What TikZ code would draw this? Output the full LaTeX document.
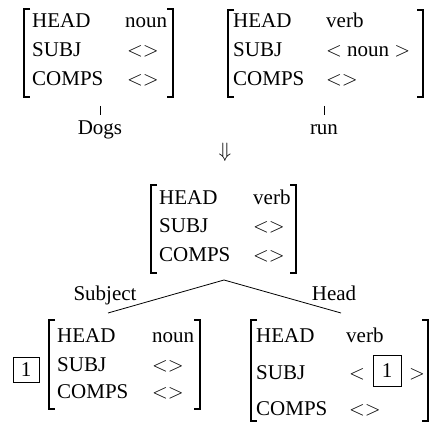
\documentclass[tikz,border=0pt]{standalone}
\usepackage{fontspec}
\setmainfont{Liberation Serif}
\newcommand\avmbrackets[4]{%
  \draw[brk] (#1+6,#3) -- (#1,#3) -- (#1,#4) -- (#1+6,#4);
  \draw[brk] (#2-6,#3) -- (#2,#3) -- (#2,#4) -- (#2-6,#4);}
\begin{document}
\begin{tikzpicture}[x=1pt,y=-1pt,
  t/.style={anchor=base west, inner sep=0pt, font=\fontsize{21}{25}\selectfont},
  tc/.style={anchor=base, inner sep=0pt, font=\fontsize{21}{25}\selectfont},
  brk/.style={line width=1.4pt},
  thinline/.style={line width=0.8pt},
  tagbox/.style={draw, line width=0.8pt, inner sep=0pt, font=\fontsize{21}{25}\selectfont}]
\useasboundingbox (0,0) rectangle (432,422);

% top-left AVM (Dogs)
\avmbrackets{24}{173}{9}{97}
\node[t] (a1) at (32,28) {HEAD};  \node[t] (a1v) at (125,28) {noun};
\node[t] (a2) at (32,57) {SUBJ};  \node[t] (a2v) at (127,57) {$<>$};
\node[t] (a3) at (32,86) {COMPS}; \node[t] (a3v) at (127,86) {$<>$};
\coordinate (dtick) at (100,106);
\node[tc] (dogs) at (100,135) {Dogs};
\draw[thinline] (dtick) -- ++(0,9);

% top-right AVM (run)
\avmbrackets{228}{423}{10}{97}
\node[t] (b1) at (233,28) {HEAD};  \node[t] (b1v) at (326,28) {verb};
\node[t] (b2) at (233,57) {SUBJ};  \node[t] (b2v) at (326,57) {$<$ noun $>$};
\node[t] (b3) at (233,86) {COMPS}; \node[t] (b3v) at (326,86) {$<>$};
\coordinate (rtick) at (324,106);
\node[tc] (run) at (324,135) {run};
\draw[thinline] (rtick) -- ++(0,9);

% arrow
\node[inner sep=0pt, font=\fontsize{21}{25}\selectfont] (darrow) at (225,152) {$\Downarrow$};

% middle AVM
\avmbrackets{151}{296}{185}{273}
\node[t] (m1) at (159,205) {HEAD};  \node[t] (m1v) at (253,205) {verb};
\node[t] (m2) at (159,233) {SUBJ};  \node[t] (m2v) at (253,233) {$<>$};
\node[t] (m3) at (159,262) {COMPS}; \node[t] (m3v) at (253,262) {$<>$};

% tree branches
\coordinate (apex) at (224,280);
\coordinate (lend) at (108,313);
\coordinate (rend) at (341,313);
\draw[thinline] (apex) -- (lend);
\draw[thinline] (apex) -- (rend);
\node[tc] (subjlbl) at (105,301) {Subject};
\node[tc] (headlbl) at (334,301) {Head};

% bottom-left AVM
\node[tagbox, minimum width=26pt, minimum height=25pt] (tag1) at (26,369.5) {1};
\avmbrackets{49}{200}{320}{409}
\node[t] (l1) at (57,343) {HEAD};  \node[t] (l1v) at (152,343) {noun};
\node[t] (l2) at (57,372) {SUBJ};  \node[t] (l2v) at (152,372) {$<>$};
\node[t] (l3) at (57,399) {COMPS}; \node[t] (l3v) at (152,399) {$<>$};

% bottom-right AVM
\avmbrackets{251}{428}{320}{421}
\node[t] (r1) at (256,343) {HEAD};  \node[t] (r1v) at (346,343) {verb};
\node[t] (r2) at (256,380) {SUBJ};
\node[t] (r2lt) at (349,380) {$<$};
\node[tagbox, minimum width=28pt, minimum height=31pt] (tag2) at (387,370.5) {1};
\node[t] (r2gt) at (409,380) {$>$};
\node[t] (r3) at (256,416) {COMPS}; \node[t] (r3v) at (349,416) {$<>$};
\end{tikzpicture}
\end{document}
